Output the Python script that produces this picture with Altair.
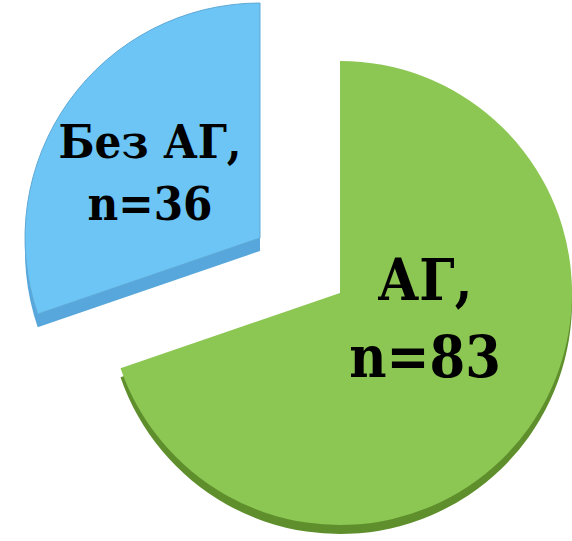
import altair as alt
import pandas as pd

categories = ["АГ", "Без АГ"]
counts = [83, 36]
top_colors = ["#8cc653", "#6cc5f4"]
side_colors = ["#5e8f2c", "#57a7dc"]

df = pd.DataFrame({"category": categories, "count": counts})

FONT = "DejaVu Serif Condensed, DejaVu Serif, serif"

base = alt.Chart(df).transform_calculate(
    label="datum.category + ',|n=' + datum.count"
).encode(
    theta=alt.Theta("count:Q", stack=True),
    order=alt.Order("category:N", sort="ascending"),
)


def slice_layer(cat, fill, cx, cy, r, stroke=None):
    kw = dict(radius=r, fill=fill)
    if stroke:
        kw.update(stroke=stroke, strokeWidth=1)
    return base.mark_arc(**kw).encode(
        x=alt.value(cx),
        y=alt.value(cy),
        opacity=alt.condition(alt.datum.category == cat, alt.value(1), alt.value(0)),
    )


green_side = slice_layer(categories[0], side_colors[0], 340, 302, 232)
green_top = slice_layer(categories[0], top_colors[0], 340, 293, 232)
blue_side = slice_layer(categories[1], side_colors[1], 260, 251, 235)
blue_top = slice_layer(categories[1], top_colors[1], 260, 238, 235, stroke="#5fa9d6")


def text_layer(cat, cx, cy, size, lh):
    return base.transform_filter(alt.datum.category == cat).mark_text(
        font=FONT, fontSize=size, fontWeight="bold", lineHeight=lh,
        lineBreak="|", align="center", baseline="alphabetic", color="#000000",
    ).encode(text="label:N", x=alt.value(cx), y=alt.value(cy))


green_text = text_layer(categories[0], 425, 300, 57, 77)
blue_text = text_layer(categories[1], 150, 158, 47, 62)

chart = alt.layer(
    green_side, green_top, blue_side, blue_top, green_text, blue_text
).properties(
    width=572, height=541, autosize="none", padding=0
).configure_view(stroke=None)

chart.save("out.html", embed_options={"renderer": "svg", "actions": False})
